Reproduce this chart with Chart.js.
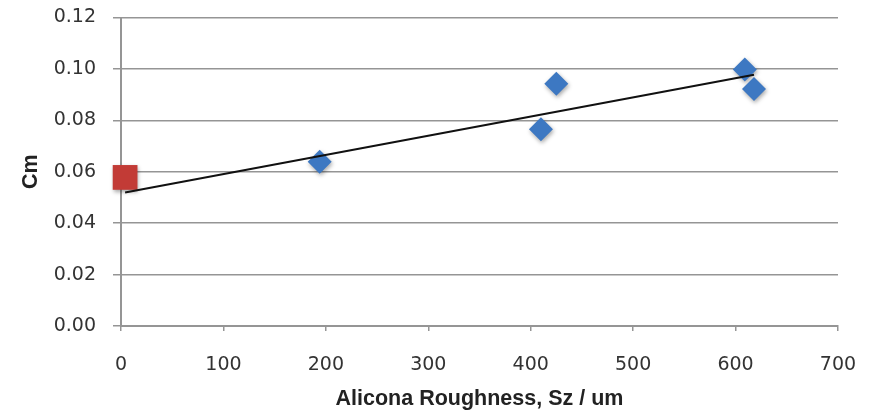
<!DOCTYPE html>
<html>
<head>
<meta charset="utf-8">
<script src="https://cdn.jsdelivr.net/npm/chart.js@4"></script>
<style>
  html, body { margin: 0; padding: 0; background: #fff; }
  #wrap { width: 875px; height: 412px; }
</style>
</head>
<body>
<div id="wrap"><canvas id="mycanvas" width="875" height="412"></canvas></div>
<script>
// values
var roughness = [194, 410, 425, 609, 618];          // Alicona Sz, um
var cm = [0.0639, 0.0765, 0.0942, 0.0998, 0.0922];
var refRoughness = [4];
var refCm = [0.0578];
var trendX = [4, 618];
var trendY = [0.0519, 0.0977];
var yTicks = [0, 0.02, 0.04, 0.06, 0.08, 0.10, 0.12];
var xTicks = [0, 100, 200, 300, 400, 500, 600, 700];

function pts(xs, ys) {
    var out = [];
    for (var i in xs) {
        out.push({x: xs[i], y: ys[i]});
    }
    return out;
}

// soft drop shadow under the markers
var shadowPlugin = {
    id: 'markerShadow',
    beforeDatasetDraw: function(chart, args) {
        var ctx = chart.ctx;
        ctx.save();
        if (args.index > 0) {
            ctx.shadowColor = 'rgba(0,0,0,0.35)';
            ctx.shadowBlur = 4;
            ctx.shadowOffsetX = 1;
            ctx.shadowOffsetY = 2;
        }
    },
    afterDatasetDraw: function(chart) {
        chart.ctx.restore();
    }
};

var tickFont = "'DejaVu Sans', sans-serif";
var titleFont = "'Liberation Sans', Arial, sans-serif";
var gridColor = '#959595';

var ctx = document.getElementById('mycanvas');
var chart = new Chart(ctx, {
    type: 'scatter',
    data: {
        datasets: [
            {
                label: 'Linear',
                data: pts(trendX, trendY),
                showLine: true,
                borderColor: '#111',
                borderWidth: 2,
                pointRadius: 0,
                clip: false
            },
            {
                label: 'Cm',
                data: pts(roughness, cm),
                pointStyle: 'rectRot',
                pointRadius: 12,
                pointHoverRadius: 12,
                backgroundColor: '#3d78c2',
                borderColor: '#3d78c2',
                borderWidth: 0,
                clip: false
            },
            {
                label: 'Reference',
                data: pts(refRoughness, refCm),
                pointStyle: 'rect',
                pointRadius: 17.5,
                pointHoverRadius: 17.5,
                backgroundColor: '#c23b36',
                borderColor: '#c23b36',
                borderWidth: 0,
                clip: false
            }
        ]
    },
    options: {
        responsive: false,
        animation: false,
        events: [],
        layout: { padding: { top: 13, right: 37, bottom: 0, left: 0 } },
        plugins: {
            legend: { display: false },
            tooltip: { enabled: false }
        },
        scales: {
            x: {
                type: 'linear',
                min: 0,
                max: 700,
                afterBuildTicks: function(scale) {
                    scale.ticks = xTicks.map(function(v) { return {value: v}; });
                },
                afterFit: function(scale) {
                    scale.height = 86;
                    scale.paddingLeft = 0;
                    scale.paddingRight = 0;
                },
                grid: {
                    drawOnChartArea: false,
                    color: gridColor,
                    lineWidth: 1.5,
                    tickLength: 5
                },
                border: { color: gridColor, width: 2 },
                ticks: {
                    color: '#333',
                    padding: 23,
                    font: { family: tickFont, size: 19 },
                    maxRotation: 0
                },
                title: {
                    display: true,
                    text: 'Alicona Roughness, Sz / um',
                    color: '#222',
                    font: { family: titleFont, size: 21.5, weight: 'bold' },
                    padding: { top: 6, bottom: 0 }
                }
            },
            y: {
                type: 'linear',
                min: 0,
                max: 0.12,
                afterBuildTicks: function(scale) {
                    scale.ticks = yTicks.map(function(v) { return {value: v}; });
                },
                afterFit: function(scale) {
                    scale.width = 121;
                    scale.paddingTop = 0;
                    scale.paddingBottom = 0;
                },
                grid: {
                    color: gridColor,
                    lineWidth: 1.5,
                    tickLength: 8
                },
                border: { color: gridColor, width: 2 },
                ticks: {
                    color: '#333',
                    padding: 17,
                    font: { family: tickFont, size: 19 },
                    callback: function(v) { return v.toFixed(2); }
                },
                title: {
                    display: true,
                    text: 'Cm',
                    color: '#222',
                    font: { family: titleFont, size: 21.5, weight: 'bold' },
                    padding: { top: 18, bottom: 0 }
                }
            }
        }
    },
    plugins: [shadowPlugin]
});
</script>
</body>
</html>
